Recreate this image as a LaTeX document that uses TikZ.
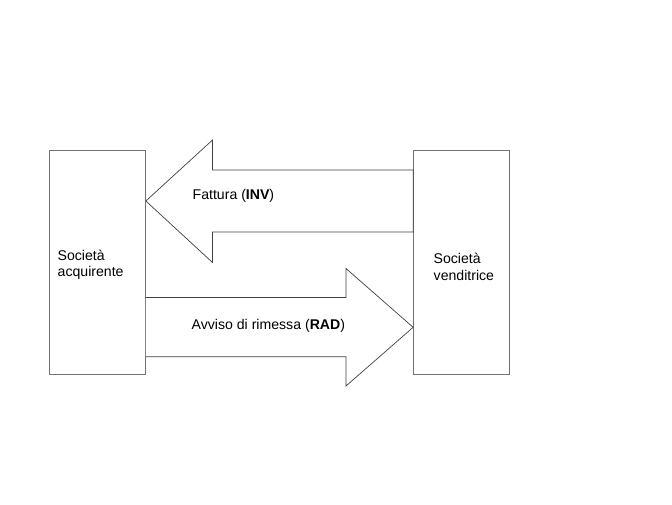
\documentclass[tikz,border=0pt]{standalone}
\usepackage{fontspec}
\setmainfont{Liberation Sans}
\begin{document}
\begin{tikzpicture}[x=1pt,y=-1pt,
  company/.style={draw=black!55, line width=0.7pt, fill=white, inner sep=0pt},
  blockarrow/.style={draw=black!75, line width=0.7pt, fill=white, line join=miter},
  lbl/.style={inner sep=0pt, anchor=base west, font=\fontsize{14.1}{16}\selectfont}]
\useasboundingbox (0,0) rectangle (672,504);
% boxes
\node[company, minimum width=96pt, minimum height=224pt] (buyer) at (97.5,262.5) {};
\node[company, minimum width=96pt, minimum height=224pt] (seller) at (461.5,262.5) {};
% upper block arrow (to buyer)
\draw[blockarrow] (buyer.east |- 0,201) -- (212.5,140) -- (212.5,170) -- (seller.west |- 0,170)
  -- (seller.west |- 0,232) -- (212.5,232) -- (212.5,262.5) -- cycle;
% lower block arrow (to seller)
\draw[blockarrow] (buyer.east |- 0,297.5) -- (346,297.5) -- (346,268.5) -- (seller.west |- 0,327.3)
  -- (346,386) -- (346,356.7) -- (buyer.east |- 0,356.7);
% labels
\node[lbl] (inv) at (192.5,199) {Fattura (\textbf{INV})};
\node[lbl] (rad) at (191.5,329) {Avviso di rimessa (\textbf{RAD})};
\node[lbl] (b1) at (57.5,260.7) {Società};
\node[lbl] (b2) at (57.5,276.2) {acquirente};
\node[lbl] (s1) at (433.5,263.3) {Società};
\node[lbl] (s2) at (433.5,280.5) {venditrice};
\end{tikzpicture}
\end{document}
